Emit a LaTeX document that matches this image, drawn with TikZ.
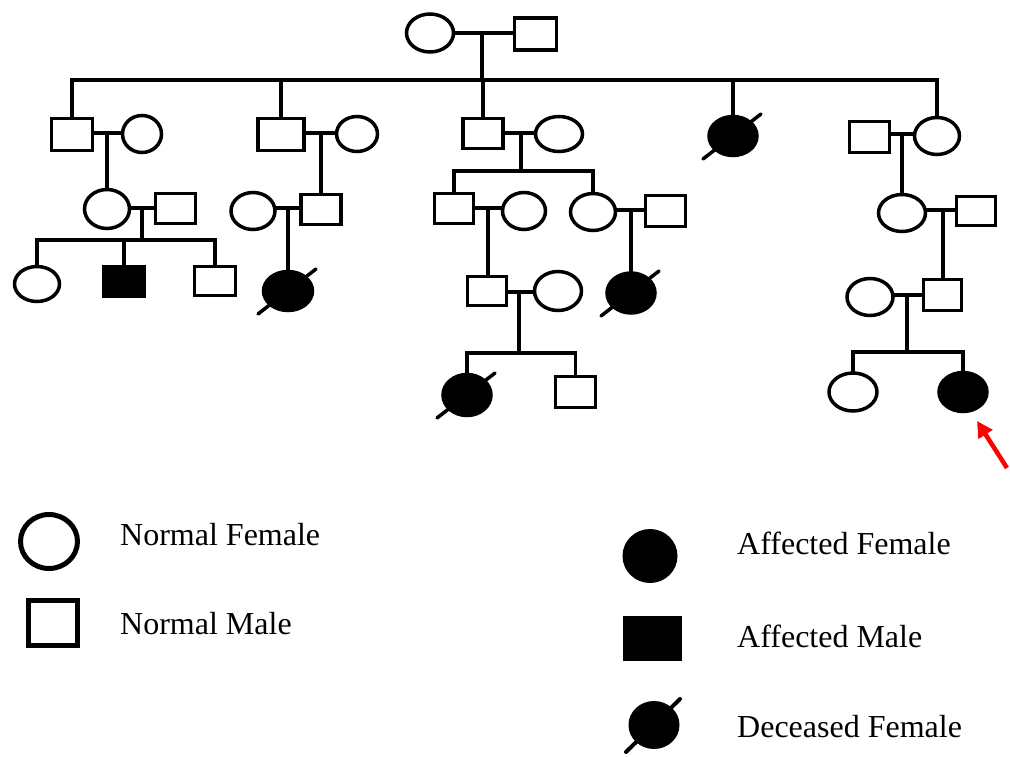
\documentclass[tikz,border=0pt]{standalone}
\usepackage{fontspec}
\setmainfont{Liberation Serif}
\usetikzlibrary{shapes.geometric,arrows.meta}
\tikzset{
  ped/.style={line width=3.5pt, line cap=rect},
  sz/.style 2 args={minimum width=#1pt, minimum height=#2pt},
  fem/.style={ellipse, draw, line width=3.5pt, inner sep=0pt, fill=white},
  mal/.style={rectangle, draw, line width=3.5pt, inner sep=0pt, fill=white},
  aff/.style={fill=black},
  lfem/.style={ellipse, draw, line width=5pt, inner sep=0pt},
  lmal/.style={rectangle, draw, line width=5pt, inner sep=0pt},
  lab/.style={anchor=base west, inner sep=0pt, font=\fontsize{32}{36}\selectfont},
  slashline/.style={line width=3.5pt, line cap=round},
}
\newcommand{\deadmark}[1]{\draw[slashline] ([shift={(-30,23)}]#1.center) -- ([shift={(28,-22)}]#1.center);}
\begin{document}
\begin{tikzpicture}[x=1pt,y=-1pt]
\useasboundingbox (0,0) rectangle (1010,757);

% ---------- Generation I
\node[fem, sz={47}{38}] (I1) at (430,33) {};
\node[mal, sz={42}{32}] (I2) at (535.5,34) {};
\coordinate (j0) at (482,33);
\coordinate (s0) at (482,80);
\draw[ped] (I1.east |- j0) -- (I2.west |- j0);
\draw[ped] (j0) -- (s0);

% ---------- Generation II
\node[mal, sz={41}{32}] (II1m) at (72,134.5) {};
\node[fem, sz={39}{37}] (II1f) at (142,134) {};
\node[mal, sz={46}{32}] (II2m) at (281,134.5) {};
\node[fem, sz={41}{35}] (II2f) at (357,134) {};
\node[mal, sz={40}{30}] (II3m) at (483,133.5) {};
\node[fem, sz={47}{35}] (II3f) at (559,134) {};
\node[fem, aff, sz={48}{39}] (II4) at (733,136) {};
\node[mal, sz={40}{31}] (II5m) at (869.5,137) {};
\node[fem, sz={45}{37}] (II5f) at (937,136) {};

\draw[ped] (II1m.north) |- (s0);
\draw[ped] (II2m.north) |- (s0);
\draw[ped] (II3m.north) -- (II3m.north |- s0);
\draw[ped] (II4.north) |- (s0);
\draw[ped] (II5f.north) |- (s0);
\deadmark{II4}

\coordinate (j1) at (107,133);
\coordinate (j2) at (321,133);
\coordinate (j5) at (521,133);
\coordinate (j9) at (902,134);
\draw[ped] (II1m.east |- j1) -- (II1f.west |- j1);
\draw[ped] (II2m.east |- j2) -- (II2f.west |- j2);
\draw[ped] (II3m.east |- j5) -- (II3f.west |- j5);
\draw[ped] (II5m.east |- j9) -- (II5f.west |- j9);

% ---------- Generation III
\node[fem, sz={45}{39}] (III1f) at (107,209) {};
\node[mal, sz={40}{30}] (III1m) at (175.5,208.5) {};
\node[fem, sz={44}{37}] (III2f) at (253,211) {};
\node[mal, sz={40}{30}] (III2m) at (321,209.5) {};
\node[mal, sz={39}{30}] (III3m) at (454,208.5) {};
\node[fem, sz={43}{37}] (III3f) at (524,211) {};
\node[fem, sz={45}{37}] (III4f) at (593,212) {};
\node[mal, sz={40}{31}] (III4m) at (665.5,211) {};
\node[fem, sz={47}{37}] (III5f) at (902,213) {};
\node[mal, sz={39}{29}] (III5m) at (976,211) {};

\draw[ped] (j1) -- (III1f.north);
\draw[ped] (j2) -- (III2m.north);
\coordinate (s5) at (521,171);
\draw[ped] (j5) -- (s5);
\draw[ped] (III3m.north) |- (s5);
\draw[ped] (III4f.north) |- (s5);
\draw[ped] (j9) -- (III5f.north);

\coordinate (j3) at (142,208);
\coordinate (j4) at (288,208);
\coordinate (j6) at (488,208);
\coordinate (j7) at (631,210);
\coordinate (j10) at (943,210);
\draw[ped] (III1f.east |- j3) -- (III1m.west |- j3);
\draw[ped] (III2f.east |- j4) -- (III2m.west |- j4);
\draw[ped] (III3m.east |- j6) -- (III3f.west |- j6);
\draw[ped] (III4f.east |- j7) -- (III4m.west |- j7);
\draw[ped] (III5f.east |- j10) -- (III5m.west |- j10);

% ---------- Generation IV
\node[fem, sz={45}{35}] (IV1) at (37,284) {};
\node[mal, aff, sz={41}{30}] (IV2) at (124,281.5) {};
\node[mal, sz={41}{29}] (IV3) at (215,281) {};
\node[fem, aff, sz={49}{39}] (IV4) at (288,291) {};
\node[mal, sz={39}{29}] (IV6m) at (487,291) {};
\node[fem, sz={47}{39}] (IV6f) at (558,291) {};
\node[fem, aff, sz={48}{40}] (IV5) at (631,293) {};
\node[fem, sz={46}{37}] (IV7f) at (870,297) {};
\node[mal, sz={38}{31}] (IV7m) at (942.5,295) {};

\coordinate (s3) at (142,240);
\draw[ped] (j3) -- (s3);
\draw[ped] (IV1.north) |- (s3);
\draw[ped] (IV2.north) |- (s3);
\draw[ped] (IV3.north) |- (s3);
\draw[ped] (j4) -- (IV4.north);
\draw[ped] (j6) -- (IV6m.north -| j6);
\draw[ped] (j7) -- (IV5.north);
\draw[ped] (j10) -- (IV7m.north -| j10);
\deadmark{IV4}
\deadmark{IV5}

\coordinate (j8) at (519,292);
\coordinate (j11) at (907,295);
\draw[ped] (IV6m.east |- j8) -- (IV6f.west |- j8);
\draw[ped] (IV7f.east |- j11) -- (IV7m.west |- j11);

% ---------- Generation V
\node[fem, aff, sz={48}{41}] (V1) at (467,395) {};
\node[mal, sz={40}{31}] (V2) at (575.5,392) {};
\node[fem, sz={48}{38}] (V3) at (853,392) {};
\node[fem, aff, sz={48}{39}] (V4) at (963,392) {};

\coordinate (s8) at (519,353);
\draw[ped] (j8) -- (s8);
\draw[ped] (V1.north) |- (s8);
\draw[ped] (V2.north) |- (s8);
\deadmark{V1}
\coordinate (s11) at (907,352);
\draw[ped] (j11) -- (s11);
\draw[ped] (V3.north) |- (s11);
\draw[ped] (V4.north) |- (s11);

% proband arrow
\coordinate (atail) at (1007,468);
\coordinate (ahead) at (977,421);
\draw[red, line width=4.5pt, -{Triangle[length=16pt,width=16pt]}] (atail) -- (ahead);

% ---------- Legend
\node[lfem, sz={57}{54}] (LF) at (49,541.5) {};
\node[lmal, sz={49}{45}] (LM) at (53,623) {};
\node[lab] (tNF) at (120,545) {Normal Female};
\node[lab] (tNM) at (120,634) {Normal Male};

\node[ellipse, fill=black, inner sep=0pt, sz={55}{54}] (LAF) at (650,556) {};
\node[rectangle, fill=black, inner sep=0pt, sz={59}{45}] (LAM) at (652.5,638.5) {};
\node[ellipse, fill=black, inner sep=0pt, sz={51}{48}] (LDF) at (654,725) {};
\draw[slashline, line width=4pt] ([shift={(-28,27)}]LDF.center) -- ([shift={(26,-26)}]LDF.center);
\node[lab] (tAF) at (737,554) {Affected Female};
\node[lab] (tAM) at (737,647) {Affected Male};
\node[lab] (tDF) at (737,737) {Deceased Female};
\end{tikzpicture}
\end{document}
